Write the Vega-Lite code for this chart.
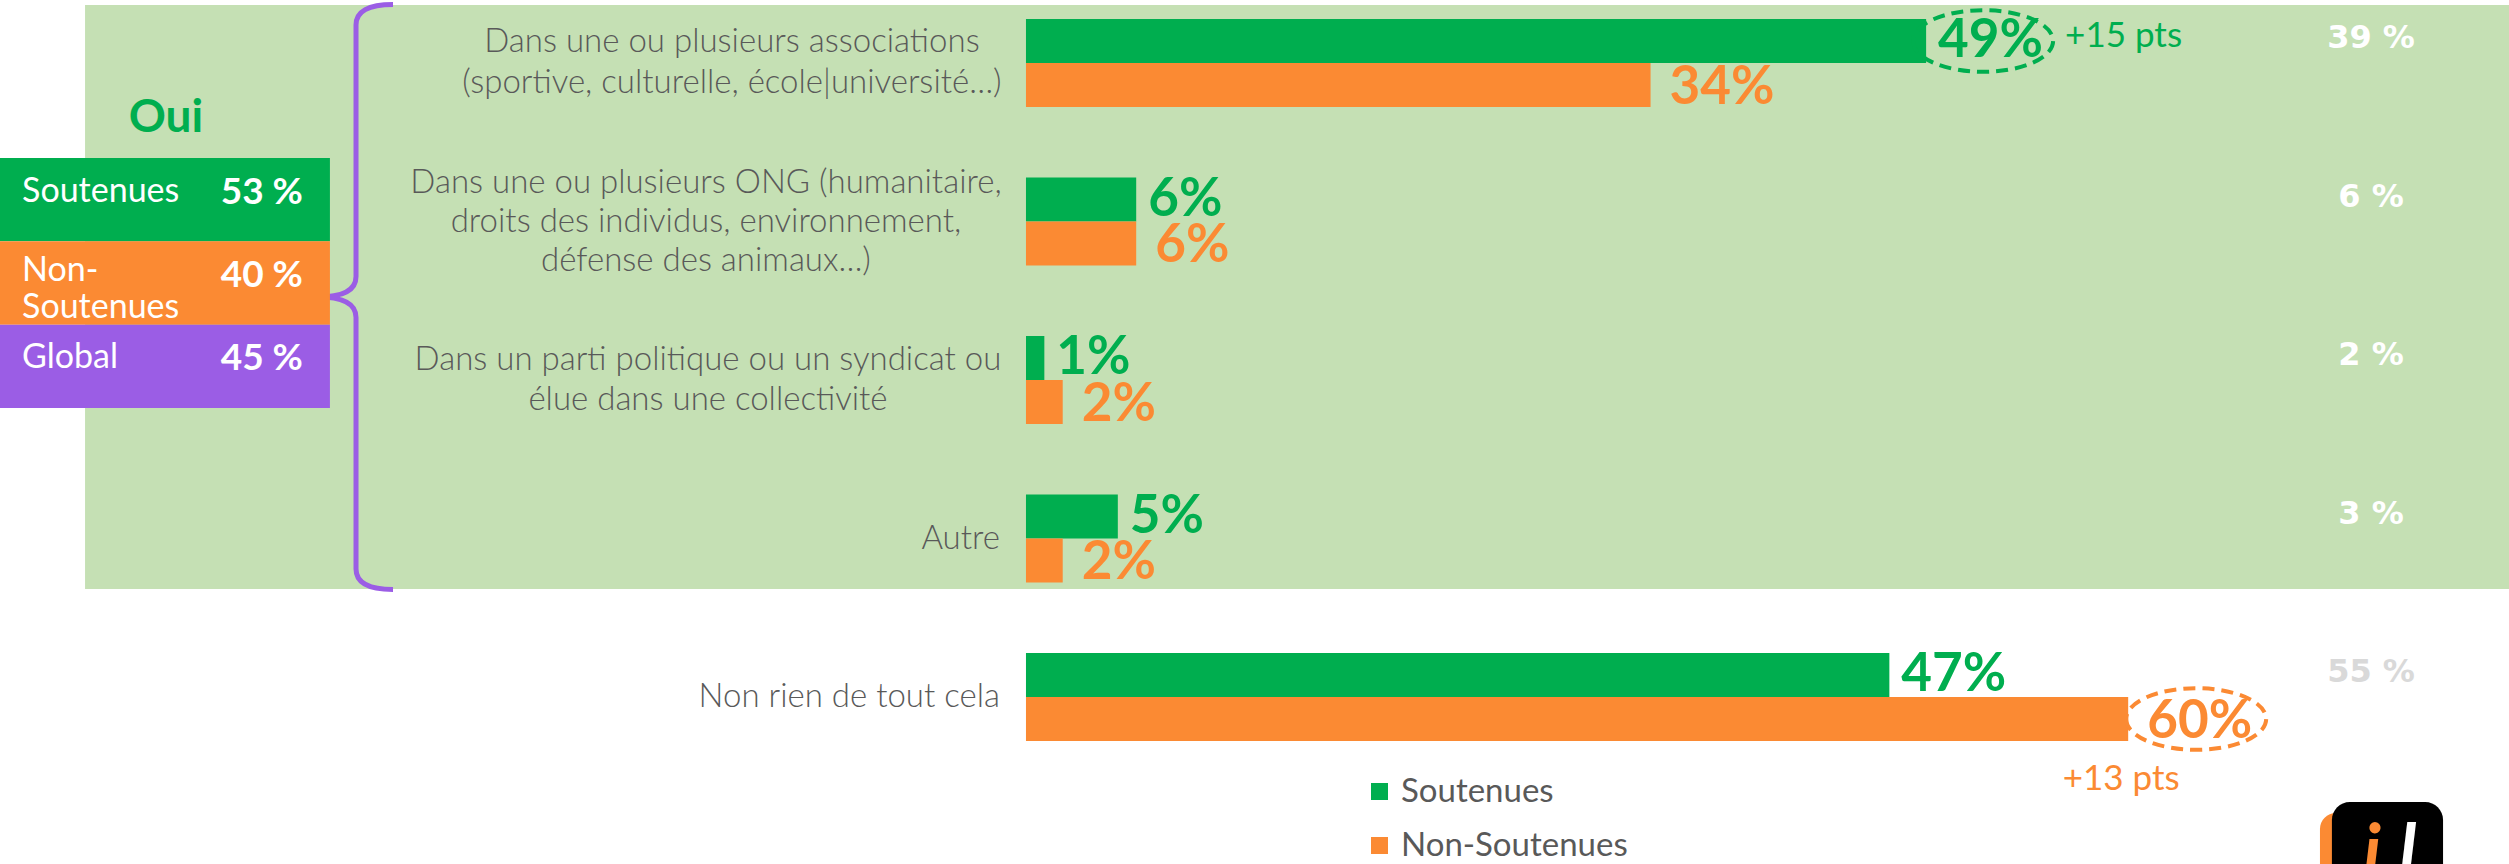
{
  "$schema": "https://vega.github.io/schema/vega-lite/v6.json",
  "width": 2509,
  "height": 864,
  "autosize": {"type": "none"},
  "padding": 0,
  "background": "#ffffff",
  "config": {"view": {"stroke": null}, "font": "Lato", "axis": {"disable": true}},
  "datasets": {
    "reponses": [
      {"item": "Dans une ou plusieurs associations\n(sportive, culturelle, école|université…)", "bloc": "Oui", "profil": "Soutenues", "valeur": 49, "ecart": "+15 pts"},
      {"item": "Dans une ou plusieurs associations\n(sportive, culturelle, école|université…)", "bloc": "Oui", "profil": "Non-Soutenues", "valeur": 34},
      {"item": "Dans une ou plusieurs ONG (humanitaire,\ndroits des individus, environnement,\ndéfense des animaux…)", "bloc": "Oui", "profil": "Soutenues", "valeur": 6},
      {"item": "Dans une ou plusieurs ONG (humanitaire,\ndroits des individus, environnement,\ndéfense des animaux…)", "bloc": "Oui", "profil": "Non-Soutenues", "valeur": 6},
      {"item": "Dans un parti politique ou un syndicat ou\nélue dans une collectivité", "bloc": "Oui", "profil": "Soutenues", "valeur": 1},
      {"item": "Dans un parti politique ou un syndicat ou\nélue dans une collectivité", "bloc": "Oui", "profil": "Non-Soutenues", "valeur": 2},
      {"item": "Autre", "bloc": "Oui", "profil": "Soutenues", "valeur": 5},
      {"item": "Autre", "bloc": "Oui", "profil": "Non-Soutenues", "valeur": 2},
      {"item": "Non rien de tout cela", "bloc": "Non", "profil": "Soutenues", "valeur": 47},
      {"item": "Non rien de tout cela", "bloc": "Non", "profil": "Non-Soutenues", "valeur": 60, "ecart": "+13 pts"}
    ],
    "global": [
      {"item": "Dans une ou plusieurs associations\n(sportive, culturelle, école|université…)", "bloc": "Oui", "global": 39},
      {"item": "Dans une ou plusieurs ONG (humanitaire,\ndroits des individus, environnement,\ndéfense des animaux…)", "bloc": "Oui", "global": 6},
      {"item": "Dans un parti politique ou un syndicat ou\nélue dans une collectivité", "bloc": "Oui", "global": 2},
      {"item": "Autre", "bloc": "Oui", "global": 3},
      {"item": "Non rien de tout cela", "bloc": "Non", "global": 55}
    ],
    "oui": [
      {"profil": "Soutenues", "libelle": "Soutenues", "lignes": 1, "oui": 53},
      {"profil": "Non-Soutenues", "libelle": "Non-\nSoutenues", "lignes": 2, "oui": 40},
      {"profil": "Global", "libelle": "Global", "lignes": 1, "oui": 45}
    ]
  },
  "resolve": {"scale": {"y": "independent"}},
  "layer": [
    {
      "data": {"values": [{"bloc": "Oui"}]},
      "encoding": {
        "y": {"field": "bloc", "type": "nominal", "axis": null, "scale": {"range": [5, 589], "paddingInner": 0, "paddingOuter": 0}}
      },
      "layer": [
        {
          "mark": {"type": "rect", "color": "#C5E0B4"},
          "encoding": {
            "x": {"datum": -51.22, "type": "quantitative", "axis": null, "scale": {"domain": [-55.85, 80.73], "nice": false, "zero": false}},
            "x2": {"datum": 80.73}
          }
        },
        {
          "mark": {"type": "point", "shape": "M0.1265,-1 Q0,-1 0,-0.93 L0,-0.07 Q0,0 -0.13,0 Q0,0 0,0.07 L0,0.93 Q0,1 0.1265,1", "size": 342225, "filled": false, "stroke": "#9B5DE5", "strokeWidth": 5, "opacity": 1},
          "encoding": {
            "x": {"datum": -36.47, "type": "quantitative", "axis": null, "scale": {"domain": [-55.85, 80.73], "nice": false, "zero": false}}
          }
        },
        {
          "mark": {"type": "text", "font": "Lato", "fontWeight": "bold", "fontSize": 46, "color": "#00AE4F", "align": "center", "baseline": "middle", "dy": -179},
          "encoding": {
            "x": {"datum": -46.82, "type": "quantitative", "axis": null, "scale": {"domain": [-55.85, 80.73], "nice": false, "zero": false}},
            "text": {"field": "bloc"}
          }
        }
      ]
    },
    {
      "data": {"name": "oui"},
      "encoding": {
        "y": {"field": "profil", "type": "nominal", "sort": null, "axis": null, "scale": {"range": [158, 408], "paddingInner": 0, "paddingOuter": 0}}
      },
      "layer": [
        {
          "mark": {"type": "rect"},
          "encoding": {
            "x": {"datum": -55.85, "type": "quantitative", "axis": null, "scale": {"domain": [-55.85, 80.73], "nice": false, "zero": false}},
            "x2": {"datum": -37.89},
            "color": {"field": "profil", "type": "nominal"}
          }
        },
        {
          "transform": [{"filter": "datum.lignes === 1"}],
          "mark": {"type": "text", "font": "Lato", "fontSize": 34, "color": "#ffffff", "align": "left", "baseline": "middle", "dy": -8},
          "encoding": {
            "x": {"datum": -54.65, "type": "quantitative", "axis": null, "scale": {"domain": [-55.85, 80.73], "nice": false, "zero": false}},
            "text": {"field": "libelle"}
          }
        },
        {
          "transform": [{"filter": "datum.lignes === 2"}],
          "mark": {"type": "text", "font": "Lato", "fontSize": 34, "color": "#ffffff", "align": "left", "baseline": "middle", "dy": -12, "lineBreak": "\n", "lineHeight": 37},
          "encoding": {
            "x": {"datum": -54.65, "type": "quantitative", "axis": null, "scale": {"domain": [-55.85, 80.73], "nice": false, "zero": false}},
            "text": {"field": "libelle"}
          }
        },
        {
          "mark": {"type": "text", "font": "Lato", "fontWeight": "bold", "fontSize": 37, "color": "#ffffff", "align": "right", "baseline": "middle", "dy": -7, "text": {"expr": "datum.oui + ' %'"}},
          "encoding": {
            "x": {"datum": -39.36, "type": "quantitative", "axis": null, "scale": {"domain": [-55.85, 80.73], "nice": false, "zero": false}}
          }
        }
      ]
    },
    {
      "data": {"name": "reponses"},
      "encoding": {
        "y": {"field": "item", "type": "nominal", "sort": null, "axis": null, "scale": {"range": [-16.25, 776.25], "paddingInner": 0.4448, "paddingOuter": 0.2224}}
      },
      "layer": [
        {
          "mark": {"type": "bar"},
          "encoding": {
            "x": {"field": "valeur", "type": "quantitative", "axis": null, "scale": {"domain": [-55.85, 80.73], "nice": false, "zero": false}},
            "yOffset": {"field": "profil", "type": "nominal", "sort": ["Soutenues", "Non-Soutenues"], "scale": {"domain": ["Soutenues", "Non-Soutenues"], "paddingInner": 0, "paddingOuter": 0}},
            "color": {
              "field": "profil", "type": "nominal",
              "scale": {"domain": ["Soutenues", "Non-Soutenues", "Global"], "range": ["#00AE4F", "#FB8A33", "#9B5DE5"]},
              "legend": {"orient": "none", "legendX": 1363, "legendY": 775, "title": null, "values": ["Soutenues", "Non-Soutenues"], "symbolType": "square", "symbolSize": 289, "symbolStrokeWidth": 0, "symbolOpacity": 1, "labelFontSize": 33, "labelFont": "Lato", "labelColor": "#595959", "labelLimit": 600, "rowPadding": 20, "labelOffset": 5, "padding": 0, "direction": "vertical"}
            }
          }
        },
        {
          "transform": [{"filter": "datum.profil === 'Soutenues'"}],
          "mark": {"type": "text", "font": "Lato", "fontWeight": "bold", "fontSize": 53, "align": "left", "baseline": "middle", "dx": 12, "text": {"expr": "datum.valeur + '%'"}},
          "encoding": {
            "x": {"field": "valeur", "type": "quantitative", "axis": null, "scale": {"domain": [-55.85, 80.73], "nice": false, "zero": false}},
            "yOffset": {"field": "profil", "type": "nominal", "sort": ["Soutenues", "Non-Soutenues"]},
            "color": {"field": "profil", "type": "nominal"}
          }
        },
        {
          "transform": [{"filter": "datum.profil === 'Non-Soutenues'"}],
          "mark": {"type": "text", "font": "Lato", "fontWeight": "bold", "fontSize": 53, "align": "left", "baseline": "middle", "dx": 19, "dy": 3, "text": {"expr": "datum.valeur + '%'"}},
          "encoding": {
            "x": {"field": "valeur", "type": "quantitative", "axis": null, "scale": {"domain": [-55.85, 80.73], "nice": false, "zero": false}},
            "yOffset": {"field": "profil", "type": "nominal", "sort": ["Soutenues", "Non-Soutenues"]},
            "color": {"field": "profil", "type": "nominal"}
          }
        },
        {
          "transform": [{"filter": "datum.profil === 'Soutenues' && (datum.item === 'Autre' || datum.item === 'Non rien de tout cela')"}],
          "mark": {"type": "text", "font": "Lato", "fontWeight": 300, "fontSize": 33, "color": "#595959", "align": "right", "baseline": "middle", "dx": -26},
          "encoding": {
            "x": {"datum": 0, "type": "quantitative", "axis": null, "scale": {"domain": [-55.85, 80.73], "nice": false, "zero": false}},
            "text": {"field": "item"}
          }
        },
        {
          "transform": [{"filter": "datum.profil === 'Soutenues' && indexof(datum.item, 'associations') >= 0"}],
          "mark": {"type": "text", "font": "Lato", "fontWeight": 300, "fontSize": 33, "color": "#595959", "align": "center", "baseline": "middle", "dx": -294, "dy": -21, "lineBreak": "\n", "lineHeight": 41},
          "encoding": {
            "x": {"datum": 0, "type": "quantitative", "axis": null, "scale": {"domain": [-55.85, 80.73], "nice": false, "zero": false}},
            "text": {"field": "item"}
          }
        },
        {
          "transform": [{"filter": "datum.profil === 'Soutenues' && indexof(datum.item, 'ONG') >= 0"}],
          "mark": {"type": "text", "font": "Lato", "fontWeight": 300, "fontSize": 33, "color": "#595959", "align": "center", "baseline": "middle", "dx": -320, "dy": -39, "lineBreak": "\n", "lineHeight": 39},
          "encoding": {
            "x": {"datum": 0, "type": "quantitative", "axis": null, "scale": {"domain": [-55.85, 80.73], "nice": false, "zero": false}},
            "text": {"field": "item"}
          }
        },
        {
          "transform": [{"filter": "datum.profil === 'Soutenues' && indexof(datum.item, 'parti') >= 0"}],
          "mark": {"type": "text", "font": "Lato", "fontWeight": 300, "fontSize": 33, "color": "#595959", "align": "center", "baseline": "middle", "dx": -318, "dy": -20, "lineBreak": "\n", "lineHeight": 40},
          "encoding": {
            "x": {"datum": 0, "type": "quantitative", "axis": null, "scale": {"domain": [-55.85, 80.73], "nice": false, "zero": false}},
            "text": {"field": "item"}
          }
        },
        {
          "transform": [{"filter": "datum.ecart && datum.profil === 'Soutenues'"}],
          "mark": {"type": "point", "shape": "M-1,0 A1,0.44 0 1,0 1,0 A1,0.44 0 1,0 -1,0 Z", "size": 19600, "filled": false, "strokeWidth": 4, "strokeDash": [12, 7], "opacity": 1, "xOffset": 57},
          "encoding": {
            "x": {"field": "valeur", "type": "quantitative", "axis": null, "scale": {"domain": [-55.85, 80.73], "nice": false, "zero": false}},
            "yOffset": {"field": "profil", "type": "nominal", "sort": ["Soutenues", "Non-Soutenues"]},
            "color": {"field": "profil", "type": "nominal"}
          }
        },
        {
          "transform": [{"filter": "datum.ecart && datum.profil === 'Non-Soutenues'"}],
          "mark": {"type": "point", "shape": "M-1,0 A1,0.44 0 1,0 1,0 A1,0.44 0 1,0 -1,0 Z", "size": 19600, "filled": false, "strokeWidth": 4, "strokeDash": [12, 7], "opacity": 1, "xOffset": 68},
          "encoding": {
            "x": {"field": "valeur", "type": "quantitative", "axis": null, "scale": {"domain": [-55.85, 80.73], "nice": false, "zero": false}},
            "yOffset": {"field": "profil", "type": "nominal", "sort": ["Soutenues", "Non-Soutenues"]},
            "color": {"field": "profil", "type": "nominal"}
          }
        },
        {
          "transform": [{"filter": "datum.ecart && datum.profil === 'Soutenues'"}],
          "mark": {"type": "text", "font": "Lato", "fontSize": 35, "align": "left", "baseline": "middle", "dx": 139, "dy": -5},
          "encoding": {
            "x": {"field": "valeur", "type": "quantitative", "axis": null, "scale": {"domain": [-55.85, 80.73], "nice": false, "zero": false}},
            "yOffset": {"field": "profil", "type": "nominal", "sort": ["Soutenues", "Non-Soutenues"]},
            "color": {"field": "profil", "type": "nominal"},
            "text": {"field": "ecart"}
          }
        },
        {
          "transform": [{"filter": "datum.ecart && datum.profil === 'Non-Soutenues'"}],
          "mark": {"type": "text", "font": "Lato", "fontSize": 35, "align": "center", "baseline": "middle", "dx": -7, "dy": 60},
          "encoding": {
            "x": {"field": "valeur", "type": "quantitative", "axis": null, "scale": {"domain": [-55.85, 80.73], "nice": false, "zero": false}},
            "yOffset": {"field": "profil", "type": "nominal", "sort": ["Soutenues", "Non-Soutenues"]},
            "color": {"field": "profil", "type": "nominal"},
            "text": {"field": "ecart"}
          }
        },
        {
          "data": {"name": "global"},
          "mark": {"type": "text", "font": "DejaVu Sans", "fontWeight": "bold", "fontSize": 32, "align": "center", "baseline": "middle", "dy": -25, "text": {"expr": "datum.global + ' %'"}},
          "encoding": {
            "x": {"datum": 73.22, "type": "quantitative", "axis": null, "scale": {"domain": [-55.85, 80.73], "nice": false, "zero": false}},
            "color": {"condition": {"test": "datum.bloc === 'Non'", "value": "#D9D9D9"}, "value": "#ffffff"}
          }
        },
        {
          "data": {"values": [{"logo": "il"}]},
          "mark": {"type": "rect", "color": "#FB8A33", "cornerRadius": 16, "yOffset": 160},
          "encoding": {
            "y": {"datum": "Non rien de tout cela", "type": "nominal"},
            "x": {"datum": 70.44, "type": "quantitative", "axis": null, "scale": {"domain": [-55.85, 80.73], "nice": false, "zero": false}},
            "x2": {"datum": 74.8}
          }
        },
        {
          "data": {"values": [{"logo": "il"}]},
          "mark": {"type": "rect", "color": "#000000", "cornerRadius": 18, "yOffset": 149},
          "encoding": {
            "y": {"datum": "Non rien de tout cela", "type": "nominal"},
            "x": {"datum": 71.09, "type": "quantitative", "axis": null, "scale": {"domain": [-55.85, 80.73], "nice": false, "zero": false}},
            "x2": {"datum": 77.14}
          }
        },
        {
          "data": {"values": [{"lettre": "i"}]},
          "mark": {"type": "text", "font": "Lato", "fontWeight": "bold", "fontStyle": "italic", "fontSize": 72, "color": "#FB8A33", "align": "center", "baseline": "alphabetic", "dy": 179},
          "encoding": {
            "y": {"datum": "Non rien de tout cela", "type": "nominal"},
            "x": {"datum": 73.27, "type": "quantitative", "axis": null, "scale": {"domain": [-55.85, 80.73], "nice": false, "zero": false}},
            "text": {"field": "lettre"}
          }
        },
        {
          "data": {"values": [{"lettre": "l"}]},
          "mark": {"type": "text", "font": "Lato", "fontWeight": "bold", "fontStyle": "italic", "fontSize": 72, "color": "#ffffff", "align": "center", "baseline": "alphabetic", "dy": 179},
          "encoding": {
            "y": {"datum": "Non rien de tout cela", "type": "nominal"},
            "x": {"datum": 75.23, "type": "quantitative", "axis": null, "scale": {"domain": [-55.85, 80.73], "nice": false, "zero": false}},
            "text": {"field": "lettre"}
          }
        }
      ]
    }
  ]
}
